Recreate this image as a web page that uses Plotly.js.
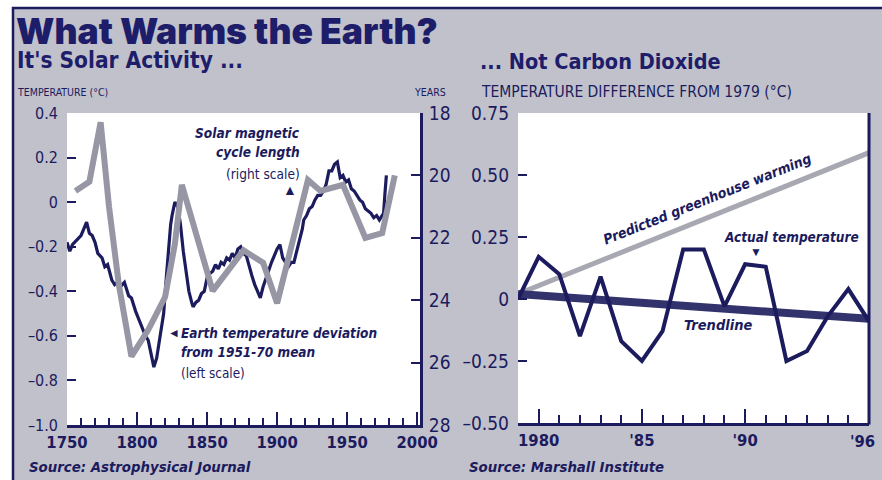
<!DOCTYPE html>
<html>
<head>
<meta charset="utf-8">
<script src="https://cdn.plot.ly/plotly-3.0.1.min.js"></script>
<style>html,body{margin:0;padding:0;background:#fff;}#chart{width:882px;height:480px;}</style>
</head>
<body>
<div id="chart"></div>
<script>
// ---------- DATA ----------
// Left chart: Earth temperature deviation from 1951-70 mean (left scale, deg C)
const tempYears = [1750,1752,1754,1757,1760,1762,1764,1766,1768,1770,1772,1775,1777,1779,1782,1784,1786,1788,1791,1794,1796,1799,1801,1803,1806,1808,1810,1812,1814,1816,1819,1821,1822,1824,1825,1827,1829,1831,1833,1835,1837,1839,1840,1842,1844,1846,1848,1850,1852,1854,1856,1858,1860,1862,1864,1866,1868,1870,1872,1874,1876,1878,1880,1882,1884,1886,1888,1890,1892,1894,1896,1898,1900,1902,1904,1906,1908,1910,1912,1914,1916,1918,1919,1921,1923,1925,1927,1929,1931,1933,1935,1937,1939,1941,1943,1945,1947,1949,1951,1953,1955,1957,1959,1961,1963,1965,1967,1969,1971,1973,1975,1976,1977,1978];
const tempDev = [-0.18,-0.22,-0.19,-0.17,-0.15,-0.12,-0.09,-0.14,-0.15,-0.18,-0.23,-0.25,-0.29,-0.28,-0.35,-0.37,-0.36,-0.38,-0.36,-0.42,-0.43,-0.49,-0.52,-0.55,-0.60,-0.62,-0.68,-0.74,-0.70,-0.62,-0.50,-0.33,-0.24,-0.10,-0.06,0.00,-0.02,-0.10,-0.22,-0.32,-0.40,-0.45,-0.47,-0.45,-0.44,-0.41,-0.40,-0.34,-0.32,-0.31,-0.28,-0.30,-0.27,-0.28,-0.25,-0.26,-0.23,-0.25,-0.21,-0.20,-0.23,-0.24,-0.29,-0.33,-0.37,-0.40,-0.43,-0.38,-0.34,-0.30,-0.27,-0.24,-0.21,-0.19,-0.25,-0.27,-0.29,-0.27,-0.27,-0.22,-0.17,-0.12,-0.08,-0.06,-0.03,-0.02,0.01,0.03,0.03,0.05,0.08,0.14,0.14,0.17,0.18,0.11,0.12,0.09,0.10,0.06,0.05,0.03,0.01,0.00,-0.03,-0.04,-0.05,-0.07,-0.06,-0.08,-0.06,-0.05,0.04,0.12];
// Left chart: solar magnetic cycle length (right scale, years)
const solarYears = [1756,1766,1774,1780,1787,1796,1808,1820,1827,1832,1854,1876,1890,1900,1922,1931,1947,1963,1975,1984];
const solarCycle = [20.5,20.2,18.3,21.0,23.5,25.8,24.95,23.9,22.2,20.3,23.7,22.4,22.8,24.1,20.15,20.5,20.3,22.0,21.85,20.0];
// Right chart: temperature difference from 1979
const satYears = [1979,1980,1981,1982,1983,1984,1985,1986,1987,1988,1989,1990,1991,1992,1993,1994,1995,1996];
const satTemp = [0,0.17,0.10,-0.15,0.09,-0.17,-0.25,-0.13,0.20,0.20,-0.03,0.14,0.13,-0.25,-0.21,-0.07,0.04,-0.09];
const predYears = [1979,1996];
const predTemp = [0.02,0.59];
const trendYears = [1979,1996];
const trendTemp = [0.02,-0.08];
// Tick labels
const leftYVals = [0.4,0.2,0,-0.2,-0.4,-0.6,-0.8,-1.0];
const leftYText = ['0.4','0.2','0','\u20130.2','\u20130.4','\u20130.6','\u20130.8','\u20131.0'];
const rightYVals = [18,20,22,24,26,28];
const satYVals = [0.75,0.5,0.25,0,-0.25,-0.5];
const satYText = ['0.75','0.50','0.25','0','\u20130.25','\u20130.50'];
const satXVals = [1980,1985,1990];
const satXText = ['1980',"'85","'90"];
const satLastLabel = "'96";

// ---------- STYLE ----------
const W = 882, H = 480;
const px = x => x / W;
const py = y => 1 - y / H;
const NAVY = '#1b1b5e';
const GREY_BG = '#c1c1cb';
const NARROW = '"DejaVu Sans Condensed","DejaVu Sans",sans-serif';
const SANS = '"Liberation Sans",Arial,sans-serif';

const L = {x0: 67, x1: 420, y0: 113, y1: 425};
const R = {x0: 518, x1: 869, y0: 113, y1: 423};

const traces = [
  {x: solarYears, y: solarCycle, xaxis: 'x', yaxis: 'y2', mode: 'lines',
   line: {color: '#9696a5', width: 6}, hoverinfo: 'skip', showlegend: false},
  {x: tempYears, y: tempDev, xaxis: 'x', yaxis: 'y', mode: 'lines',
   line: {color: NAVY, width: 3.2}, hoverinfo: 'skip', showlegend: false},
  {x: predYears, y: predTemp, xaxis: 'x2', yaxis: 'y3', mode: 'lines',
   line: {color: '#a8a8b2', width: 5}, hoverinfo: 'skip', showlegend: false},
  {x: trendYears, y: trendTemp, xaxis: 'x2', yaxis: 'y3', mode: 'lines',
   line: {color: '#32326c', width: 8}, hoverinfo: 'skip', showlegend: false},
  {x: satYears, y: satTemp, xaxis: 'x2', yaxis: 'y3', mode: 'lines',
   line: {color: NAVY, width: 4}, hoverinfo: 'skip', showlegend: false}
];

function ann(text, x, y, o) {
  return Object.assign({text: text, x: px(x), y: py(y), xref: 'paper', yref: 'paper',
    showarrow: false, xanchor: 'left', yanchor: 'middle',
    font: {family: NARROW, size: 14, color: NAVY}}, o || {});
}
const BI = s => ({family: NARROW, size: s, color: NAVY, weight: 'bold', style: 'italic'});
const REG = s => ({family: NARROW, size: s, color: NAVY});

const annotations = [
  ann('What Warms the Earth?', 14, 32, {font: {family: 'Inter,"DejaVu Sans",sans-serif', size: 35.5, color: '#1d1d6a', weight: 900}}),
  ann("It's Solar Activity ...", 15, 60, {font: {family: NARROW, size: 22.5, color: '#1d1d6a', weight: 'bold'}}),
  ann('... Not Carbon Dioxide', 478, 62, {font: {family: NARROW, size: 21.5, color: '#1d1d6a', weight: 'bold'}}),
  ann('TEMPERATURE (\u00b0C)', 15, 92, {font: REG(10.5)}),
  ann('YEARS', 448, 92, {xanchor: 'right', font: REG(10.5)}),
  ann('TEMPERATURE DIFFERENCE FROM 1979 (\u00b0C)', 479, 92, {font: REG(15.5)}),
  ann('Solar magnetic', 302, 133, {xanchor: 'right', font: BI(13.6)}),
  ann('cycle length', 302, 152, {xanchor: 'right', font: BI(13.6)}),
  ann('(right scale)', 302, 174, {xanchor: 'right', font: REG(13.6)}),
  ann('\u25b2', 290, 190, {xanchor: 'center', font: {family: SANS, size: 14, color: NAVY}}),
  ann('\u25c4', 166, 333, {font: {family: SANS, size: 12, color: NAVY}}),
  ann('Earth temperature deviation', 179, 333, {font: BI(13.5)}),
  ann('from 1951-70 mean', 179, 352, {font: BI(13.5)}),
  ann('(left scale)', 179, 373, {font: REG(13.4)}),
  ann('Predicted greenhouse warming', 707, 199, {xanchor: 'center', textangle: -21.8, font: BI(14)}),
  ann('Actual temperature', 791, 237, {xanchor: 'center', font: BI(13.5)}),
  ann('\u25bc', 756, 252, {xanchor: 'center', font: {family: SANS, size: 12, color: NAVY}}),
  ann('Trendline', 718, 325, {xanchor: 'center', font: BI(14.5)}),
  ann(satLastLabel, 862, 441, {xanchor: 'center', font: {family: NARROW, size: 16.5, color: NAVY, weight: 'bold'}}),
  ann('Source: Astrophysical Journal', 27, 466, {font: BI(14.8)}),
  ann('Source: Marshall Institute', 467, 466, {font: BI(14.8)})
];

const shapes = [
  {type: 'rect', xref: 'paper', yref: 'paper', x0: px(13), x1: px(900), y0: py(500), y1: py(8),
   fillcolor: GREY_BG, line: {color: NAVY, width: 2.5}, layer: 'below'},
  {type: 'rect', xref: 'paper', yref: 'paper', x0: px(L.x0), x1: px(L.x1), y0: py(L.y1), y1: py(L.y0),
   fillcolor: '#ffffff', line: {width: 0}, layer: 'below'},
  {type: 'rect', xref: 'paper', yref: 'paper', x0: px(R.x0), x1: px(R.x1), y0: py(R.y1), y1: py(R.y0),
   fillcolor: '#ffffff', line: {width: 0}, layer: 'below'},
  {type: 'line', xref: 'paper', yref: 'paper', x0: px(R.x1), x1: px(R.x1), y0: py(R.y1 + 1.5), y1: py(R.y0),
   line: {color: NAVY, width: 3}}
];

const tickFont = s => ({family: NARROW, size: s, color: NAVY});
const tickFontB = s => ({family: NARROW, size: s, color: NAVY, weight: 'bold'});

const layout = {
  width: W, height: H,
  margin: {l: 0, r: 0, t: 0, b: 0},
  paper_bgcolor: '#ffffff',
  plot_bgcolor: 'rgba(0,0,0,0)',
  showlegend: false,
  xaxis: {
    domain: [px(L.x0), px(L.x1)], anchor: 'y', range: [1750, 2002],
    showgrid: false, zeroline: false, showline: true, linecolor: NAVY, linewidth: 3,
    tickmode: 'linear', tick0: 1750, dtick: 50, ticks: 'inside', ticklen: 13, tickwidth: 2, tickcolor: NAVY,
    minor: {tickmode: 'linear', tick0: 1750, dtick: 10, ticks: 'inside', ticklen: 7, tickwidth: 2, tickcolor: NAVY, showgrid: false},
    tickfont: tickFontB(16.5), ticklabelstandoff: 0
  },
  yaxis: {
    domain: [py(L.y1), py(L.y0)], anchor: 'x', range: [-1.0, 0.4],
    showgrid: false, zeroline: false, showline: false,
    tickmode: 'array', tickvals: leftYVals, ticktext: leftYText,
    ticks: 'inside', ticklen: 9, tickwidth: 2, tickcolor: NAVY,
    tickfont: tickFont(16), ticklabelstandoff: 8
  },
  yaxis2: {
    overlaying: 'y', side: 'right', anchor: 'x', range: [28, 18],
    showgrid: false, zeroline: false, showline: true, linecolor: NAVY, linewidth: 3,
    tickmode: 'array', tickvals: rightYVals,
    ticks: 'inside', ticklen: 9, tickwidth: 2, tickcolor: NAVY,
    tickfont: tickFont(19), ticklabelstandoff: 2
  },
  xaxis2: {
    domain: [px(R.x0), px(R.x1)], anchor: 'y3', range: [1979, 1996],
    showgrid: false, zeroline: false, showline: true, linecolor: NAVY, linewidth: 3,
    tickmode: 'array', tickvals: satXVals, ticktext: satXText,
    ticks: 'inside', ticklen: 14, tickwidth: 2, tickcolor: NAVY,
    minor: {tickmode: 'linear', tick0: 1979, dtick: 1, ticks: 'inside', ticklen: 8, tickwidth: 2, tickcolor: NAVY, showgrid: false},
    tickfont: tickFontB(16.5), ticklabelstandoff: 0
  },
  yaxis3: {
    domain: [py(R.y1), py(R.y0)], anchor: 'x2', range: [-0.5, 0.75],
    showgrid: false, zeroline: false, showline: false,
    tickmode: 'array', tickvals: satYVals, ticktext: satYText,
    ticks: 'inside', ticklen: 9, tickwidth: 2, tickcolor: NAVY,
    tickfont: tickFont(19), ticklabelstandoff: 8
  },
  annotations: annotations,
  shapes: shapes
};

Plotly.newPlot('chart', traces, layout, {staticPlot: true, displayModeBar: false});
</script>
</body>
</html>
